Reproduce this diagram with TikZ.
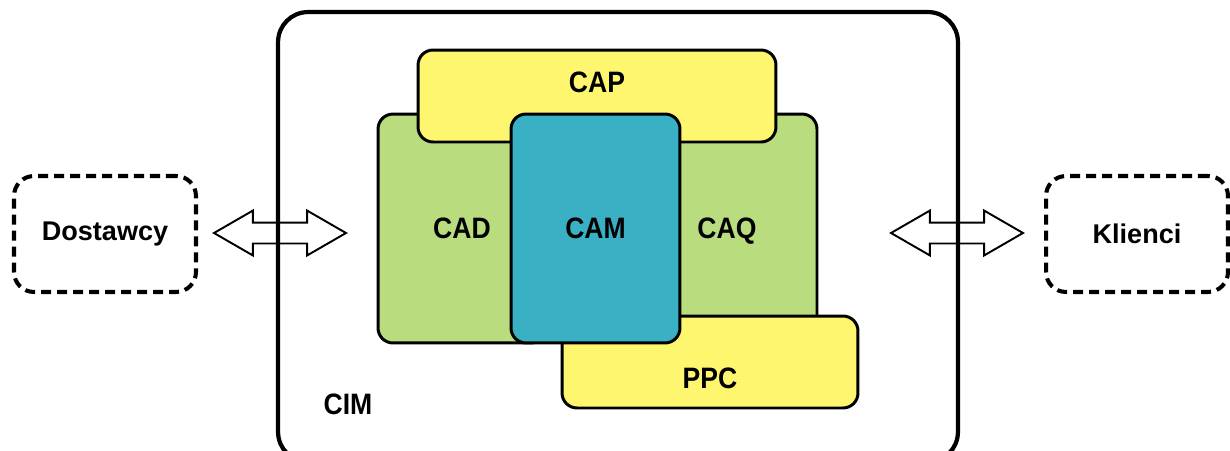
\documentclass[tikz,border=0pt]{standalone}
\usepackage{fontspec}
\setmainfont{Liberation Sans}
\newfontfamily\narrowfont[FakeStretch=0.9]{Liberation Sans}
\usepackage{tikz}
\usetikzlibrary{shapes.arrows}

\definecolor{cadgreen}{RGB}{184,220,126}
\definecolor{capyellow}{RGB}{255,246,112}
\definecolor{camteal}{RGB}{58,176,196}

\begin{document}
\begin{tikzpicture}
  [
    x = 0.02cm, y = -0.02cm,  % one unit = one pixel of the sketch
    boxfont/.style = {font=\narrowfont\bfseries\fontsize{16.8}{18}\selectfont, text depth=0pt},
    box/.style = {draw, line width=1.7pt, rounded corners=0.3cm, inner sep=0pt, boxfont},
    partner/.style = {draw, line width=2.3pt, dash pattern=on 5.7pt off 3.4pt,
      rounded corners=0.4cm, minimum width=3.64cm, minimum height=2.32cm,
      font=\bfseries\fontsize{15.4}{17}\selectfont},
    link/.style = {draw, double arrow, line width=1.1pt, inner xsep=0pt, inner ysep=0.19cm,
      minimum height=2.64cm, double arrow head extend=0.24cm, double arrow tip angle=60}
  ]
  \useasboundingbox (0,0) rectangle (1230,450);

  % frame of the whole system
  \node [draw, line width=2.4pt, rounded corners=0.6cm, minimum width=13.6cm,
    minimum height=9cm] (CIM) at (618,237) {};
  \node [boxfont] (CIM label) at (348,404) {CIM};

  % modules
  \node [box, fill=cadgreen, minimum width=3.36cm, minimum height=4.58cm] (CAD) at (462,228.5) {CAD};
  \node [box, fill=cadgreen, minimum width=3.6cm, minimum height=4.58cm] (CAQ) at (727,228.5) {CAQ};
  \node [box, fill=capyellow, minimum width=7.16cm, minimum height=1.84cm,
    label={[boxfont, yshift=0.28cm]center:CAP}] (CAP) at (597,96) {};
  \node [box, fill=capyellow, minimum width=5.92cm, minimum height=1.84cm,
    label={[boxfont, yshift=-0.32cm]center:PPC}] (PPC) at (710,362) {};
  \node [box, fill=camteal, minimum width=3.38cm, minimum height=4.58cm] (CAM) at (595.5,228.5) {CAM};

  % outside partners
  \node [partner] (Dostawcy) at (105,234) {Dostawcy};
  \node [partner] (Klienci) at (1137,234) {Klienci};
  \node [link] (in) at (280,233) {};
  \node [link] (out) at (957,233) {};
\end{tikzpicture}
\end{document}
